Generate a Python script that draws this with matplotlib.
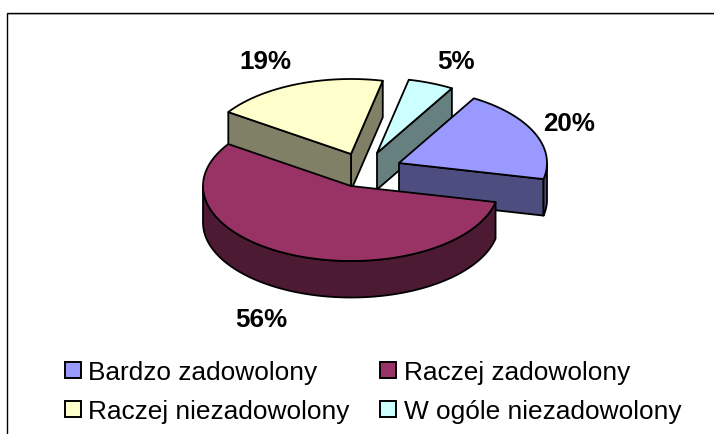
import numpy as np
import matplotlib
matplotlib.use("Agg")
import matplotlib.pyplot as plt
from matplotlib.patches import Polygon, Rectangle

plt.rcParams["font.family"] = ["Liberation Sans", "DejaVu Sans"]

categories = ["Bardzo zadowolony", "Raczej zadowolony",
              "Raczej niezadowolony", "W ogóle niezadowolony"]
values = [20, 56, 19, 5]
top_colors = ["#9999FF", "#993366", "#FFFFCC", "#CCFFFF"]
side_colors = ["#4D4D80", "#4D1A33", "#808066", "#668080"]

# layout of the fake 3D pie, in pixels
CX, CY = 351, 187
RX, RY = 148, 75
DEPTH = 36.5
START = 59.6
explode = [(48, -23), (0, 0), (0, -32), (26, -33)]
label_pos = [(569, 131), (261, 327), (265, 69), (456, 69)]
draw_order = [2, 3, 0, 1]


def ell(t, dx, dy, drop=0):
    t = np.radians(t)
    return np.column_stack([CX + dx + RX * np.cos(t),
                            CY + dy + drop - RY * np.sin(t)])


fig = plt.figure(figsize=(7.14, 4.35), dpi=100)
ax = fig.add_axes([0, 0, 1, 1])
ax.set_xlim(0, 714)
ax.set_ylim(435, 0)
ax.axis("off")

# chart frame, only top and left made it into the screenshot
ax.plot([8, 714], [15.2, 15.2], color="#c8c8c8", lw=0.7)
ax.plot([7, 7, 714], [435, 14, 14], color="black", lw=1.0,
        solid_joinstyle="miter")

# clockwise angles of each slice
shares = np.array(values) / sum(values) * 360
ends = START - np.concatenate([[0], np.cumsum(shares)])

for i in draw_order:
    t2, t1 = ends[i], ends[i + 1]
    dx, dy = explode[i]
    apex = np.array([CX + dx, CY + dy])
    down = np.array([0, DEPTH])
    style = dict(ec="black", lw=1.3, joinstyle="round")

    # cut faces turned towards the viewer
    for t, normal in ((t1, t1 - 90), (t2, t2 + 90)):
        if np.sin(np.radians(normal)) < 0:
            edge = ell(t, dx, dy)[0]
            ax.add_patch(Polygon([apex, edge, edge + down, apex + down],
                                 fc=side_colors[i], **style))

    # outer rim, only the front half of the ellipse shows
    ts = np.linspace(t1, t2, 200)
    ts = ts[np.sin(np.radians(ts)) <= 0]
    if len(ts):
        upper = ell(ts, dx, dy)
        lower = ell(ts, dx, dy, DEPTH)
        ax.add_patch(Polygon(np.vstack([upper, lower[::-1]]),
                             fc=side_colors[i], **style))

    # top face
    arc = ell(np.linspace(t1, t2, 200), dx, dy)
    ax.add_patch(Polygon(np.vstack([apex, arc]), fc=top_colors[i], **style))

for v, (x, y) in zip(values, label_pos):
    ax.text(x, y, f"{v}%", fontsize=18.7, fontweight="bold",
            ha="center", va="baseline")

# legend
box_x = [64.5, 379.5]
box_y = [363, 402]
baselines = [380.5, 419]
text_x = [87.5, 404]
for i, name in enumerate(categories):
    col, row = i % 2, i // 2
    ax.add_patch(Rectangle((box_x[col], box_y[row]), 16, 16,
                           fc=top_colors[i], ec="black", lw=1.4))
    ax.text(text_x[col], baselines[row], name, fontsize=18.9,
            ha="left", va="baseline")

fig.savefig("out.png", dpi=100)
